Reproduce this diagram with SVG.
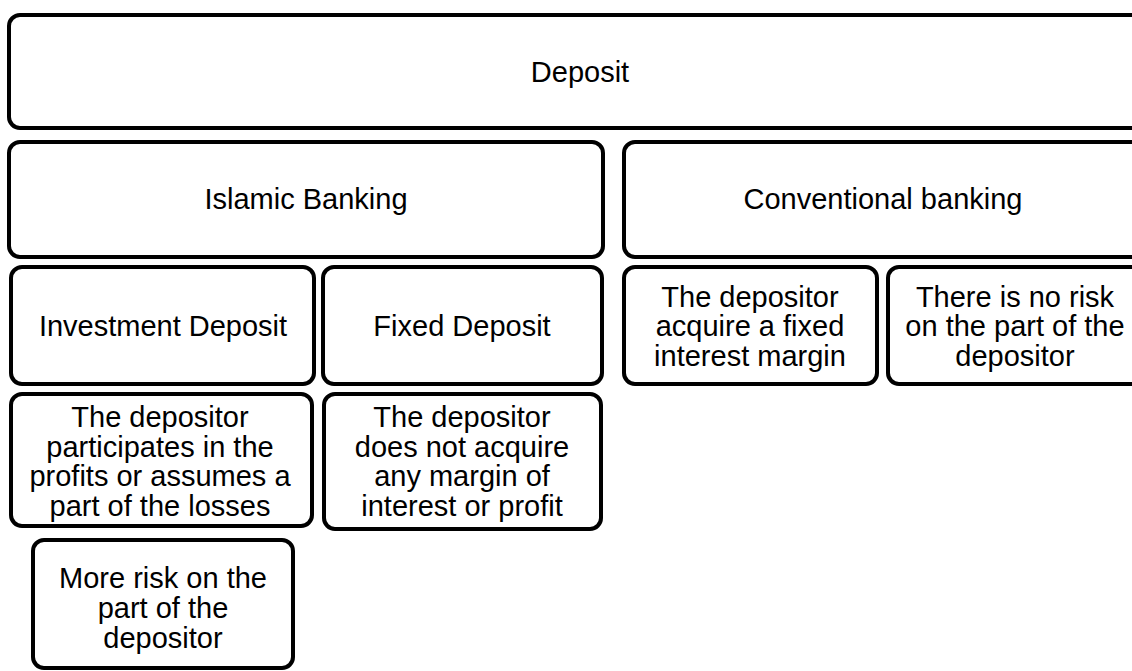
<svg xmlns="http://www.w3.org/2000/svg" width="1132" height="671" viewBox="0 0 1132 671">
<style>
.b{fill:#fff;stroke:#000;stroke-width:4}
text{font-family:"Liberation Sans",Arial,sans-serif;font-size:29px;fill:#000;text-anchor:middle}
</style>
<rect width="1132" height="671" fill="#fff"/>
<g id="connectors"></g>
<g id="deposit"><rect class="b" x="9" y="15" width="1142" height="113" rx="11"/><text x="580" y="82">Deposit</text></g>
<g id="islamic"><rect class="b" x="9" y="142" width="594" height="115" rx="11"/><text x="306" y="209">Islamic Banking</text></g>
<g id="conventional"><rect class="b" x="624" y="142" width="518" height="115" rx="11"/><text x="883" y="209">Conventional banking</text></g>
<g id="investment"><rect class="b" x="11" y="267" width="303" height="117" rx="11"/><text x="163" y="336">Investment Deposit</text></g>
<g id="fixed"><rect class="b" x="323" y="267" width="279" height="117" rx="11"/><text x="462" y="336">Fixed Deposit</text></g>
<g id="conv-fixed"><rect class="b" x="624" y="267" width="253" height="117" rx="11"/><text x="750" y="306.5">The depositor</text><text x="750" y="336">acquire a fixed</text><text x="750" y="365.5">interest margin</text></g>
<g id="conv-norisk"><rect class="b" x="888" y="267" width="254" height="117" rx="11"/><text x="1015" y="306.5">There is no risk</text><text x="1015" y="336">on the part of the</text><text x="1015" y="365.5">depositor</text></g>
<g id="inv-desc"><rect class="b" x="11" y="394" width="301" height="132" rx="11"/><text x="160" y="427">The depositor</text><text x="160" y="456.5">participates in the</text><text x="160" y="486">profits or assumes a</text><text x="160" y="515.5">part of the losses</text></g>
<g id="fixed-desc"><rect class="b" x="324" y="394" width="277" height="135" rx="11"/><text x="462" y="427">The depositor</text><text x="462" y="456.5">does not acquire</text><text x="462" y="486">any margin of</text><text x="462" y="515.5">interest or profit</text></g>
<g id="more-risk"><rect class="b" x="33" y="540" width="260" height="128" rx="11"/><text x="163" y="588">More risk on the</text><text x="163" y="618">part of the</text><text x="163" y="648">depositor</text></g>
</svg>
